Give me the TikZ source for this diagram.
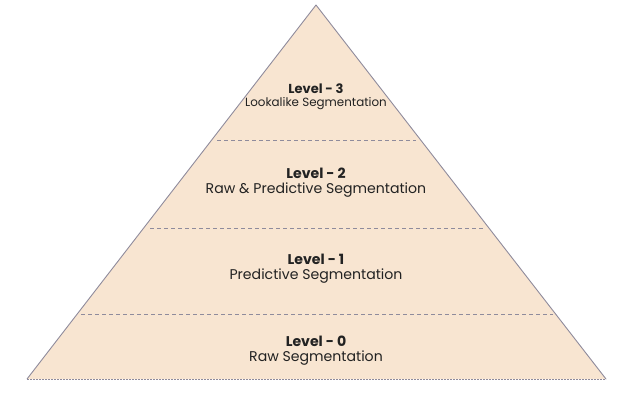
\documentclass[tikz,border=0pt]{standalone}
\usepackage{fontspec}
\setmainfont{Poppins}
\definecolor{peach}{HTML}{F8E5D1}
\definecolor{edge}{HTML}{8F8B9C}
\definecolor{ink}{HTML}{222222}
\begin{document}
\begin{tikzpicture}[x=1pt,y=-1pt,
  lvl/.style={text=ink,font=\fontsize{14.1}{16}\selectfont\bfseries,inner sep=0pt},
  sub/.style={text=ink,font=\fontsize{14.1}{16}\selectfont,inner sep=0pt},
  divider/.style={draw=edge,line width=0.8pt,dash pattern=on 4pt off 3pt}]
\useasboundingbox (0,0) rectangle (637,400);
\coordinate (apex) at (316,5);
\coordinate (bl) at (27,379);
\coordinate (br) at (606,379);
\fill[peach] (apex) -- (br) -- (bl) -- cycle;
\draw[edge,line width=0.9pt,line join=round] (bl) -- (apex) -- (br);
\draw[edge,line width=0.9pt,dash pattern=on 2pt off 1pt] (bl) -- (br);
\coordinate (d1l) at (217,140.5);
\coordinate (d1r) at (416,140.5);
\coordinate (d2l) at (150,228);
\coordinate (d2r) at (484,228);
\coordinate (d3l) at (81,314);
\coordinate (d3r) at (553,314);
\draw[divider] (d1l) -- (d1r);
\draw[divider] (d2l) -- (d2r);
\draw[divider] (d3l) -- (d3r);
\node[lvl,font=\fontsize{13}{15}\selectfont\bfseries] (l3) at (316,88.5) {Level - 3};
\node[sub,font=\fontsize{11.9}{13}\selectfont] (s3) at (316,103.5) {Lookalike Segmentation};
\node[lvl] (l2) at (316,173) {Level - 2};
\node[sub] (s2) at (316,190) {Raw \& Predictive Segmentation};
\node[lvl] (l1) at (316,259) {Level - 1};
\node[sub] (s1) at (316,276) {Predictive Segmentation};
\node[lvl] (l0) at (316,341) {Level - 0};
\node[sub] (s0) at (316,358) {Raw Segmentation};
\end{tikzpicture}
\end{document}
